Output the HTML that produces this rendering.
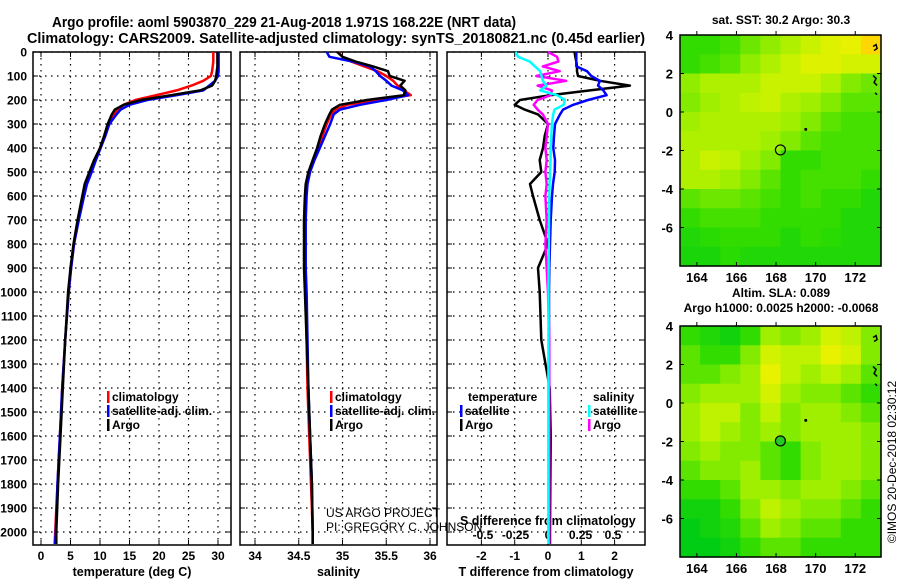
<!DOCTYPE html>
<html><head><meta charset="utf-8"><style>
body{margin:0;background:#fff}
svg{display:block;font-family:"Liberation Sans",sans-serif}
.b{font-weight:bold}
</style></head><body>
<svg id="s" width="900" height="580" viewBox="0 0 900 580" xmlns="http://www.w3.org/2000/svg">
<text x="52" y="27" class="b" font-size="14.5" textLength="464" lengthAdjust="spacingAndGlyphs">Argo profile: aoml 5903870_229 21-Aug-2018 1.971S 168.22E (NRT data)</text>
<text x="27" y="43" class="b" font-size="14.5" textLength="618" lengthAdjust="spacingAndGlyphs">Climatology: CARS2009. Satellite-adjusted climatology: synTS_20180821.nc (0.45d earlier)</text>
<g id="g"></g>
</svg>
<script>
// depth levels (m)
const depth=[0,20,40,60,80,100,120,140,160,180,200,220,240,260,300,350,400,450,500,550,600,700,800,900,1000,1200,1400,1600,1800,2000,2050];
const tempArgo=[29.9,29.9,29.9,29.9,29.8,29.7,29.5,29,27,22,17,14,12.5,12,11.3,10.7,10,9,8.2,7.4,7,6.2,5.5,5,4.6,4.1,3.7,3.3,2.9,2.6,2.6];
const tempClim=[29.2,29.2,29.2,29.1,29,28.8,27.5,25.5,23,19.5,16,14,13,12.3,11.4,10.8,10,9.2,8.5,7.7,7.2,6.3,5.6,5.1,4.7,4.1,3.6,3.2,2.8,2.4,2.3];
const tempSat=[30.1,30.1,30.1,30.1,30.1,30,29.5,28.5,27.5,23,18,15,13.5,12.8,11.6,10.9,10.1,9.3,8.6,7.8,7.3,6.4,5.6,5.1,4.7,4.1,3.6,3.2,2.8,2.5,2.4];
const salArgo=[34.94,35.0,35.15,35.35,35.52,35.54,35.71,35.66,35.72,35.7,35.28,34.97,34.88,34.85,34.8,34.75,34.71,34.66,34.61,34.58,34.57,34.56,34.56,34.56,34.57,34.59,34.61,34.63,34.65,34.66,34.66];
const salClim=[34.95,35.0,35.1,35.25,35.4,35.5,35.58,35.63,35.7,35.78,35.4,35.05,34.92,34.87,34.82,34.77,34.72,34.67,34.62,34.59,34.58,34.57,34.57,34.57,34.58,34.59,34.6,34.62,34.64,34.66,34.66];
const salSat=[34.82,34.85,35.12,35.31,35.38,35.43,35.5,35.56,35.69,35.75,35.5,35.2,34.97,34.9,34.86,34.8,34.74,34.68,34.63,34.6,34.59,34.58,34.58,34.58,34.59,34.6,34.61,34.63,34.65,34.66,34.66];
const dTArgo=[0.8,0.82,0.85,0.87,0.87,0.9,1.56,2.46,1.26,0.06,-0.84,-1.0,-0.7,-0.3,0,-0.1,-0.15,-0.25,-0.2,-0.54,-0.45,-0.25,0,-0.3,-0.25,-0.2,0.05,0.08,0.07,0.06,0.06];
const dTSat=[0.85,0.85,0.85,0.85,1.17,1.3,1.56,1.5,1.66,1.76,1.2,0.76,0.45,0.36,0.21,0.18,0.16,0.21,0.2,0.15,0.12,0.08,0.06,0.04,0.03,0.03,0.02,0.02,0.02,0.02,0.02];
const dSSat=[-0.25,-0.23,-0.14,-0.1,-0.06,-0.05,-0.04,-0.01,-0.06,0.07,0.13,0.12,0.05,0.04,0.03,0.025,0.02,0.02,0.015,0.012,0.01,0.008,0.006,0.005,0.004,0.004,0.003,0.003,0.003,0.003,0.003];
const dSArgo=[0,0.07,0.08,-0.04,0.09,-0.09,0.14,-0.08,0.03,0.02,-0.08,-0.11,-0.08,-0.04,0,-0.01,-0.02,-0.01,-0.02,-0.01,-0.02,-0.01,-0.02,-0.01,0,0.01,0.01,0.01,0.01,0.01,0.01];
const depthTicks=[0,100,200,300,400,500,600,700,800,900,1000,1100,1200,1300,1400,1500,1600,1700,1800,1900,2000];
const tempTicks=[0,5,10,15,20,25,30];
const salTicks=[34,34.5,35,35.5,36];
const dTTicks=[-2,-1,0,1,2];
const dSTicks=[-0.5,-0.25,0,0.25,0.5];
const latTicks=[4,2,0,-2,-4,-6];
const lonTicks=[164,166,168,170,172];
const sstGrid=[
[0.3,0.3,0.35,0.45,0.55,0.65,0.75,0.85,0.9,1.0],
[0.3,0.35,0.4,0.55,0.65,0.75,0.85,0.85,0.8,0.8],
[0.55,0.65,0.65,0.65,0.75,0.75,0.75,0.65,0.5,0.45],
[0.5,0.6,0.65,0.7,0.75,0.65,0.6,0.5,0.4,0.4],
[0.6,0.65,0.65,0.65,0.65,0.6,0.5,0.4,0.35,0.35],
[0.65,0.65,0.65,0.65,0.6,0.5,0.4,0.35,0.35,0.35],
[0.65,0.75,0.7,0.6,0.5,0.3,0.3,0.35,0.35,0.35],
[0.65,0.65,0.6,0.5,0.4,0.3,0.35,0.35,0.35,0.3],
[0.4,0.45,0.45,0.4,0.35,0.3,0.35,0.3,0.3,0.2],
[0.3,0.35,0.35,0.35,0.3,0.3,0.3,0.3,0.2,0.2],
[0.2,0.25,0.3,0.3,0.3,0.2,0.3,0.25,0.2,0.2],
[0.15,0.15,0.25,0.2,0.2,0.2,0.2,0.2,0.2,0.2]];
const slaGrid=[
[0.3,0.2,0.1,0.3,0.6,0.5,0.6,0.8,0.7,0.5],
[0.4,0.3,0.3,0.5,0.8,0.7,0.7,0.9,0.8,0.5],
[0.4,0.4,0.5,0.6,0.9,0.7,0.6,0.7,0.6,0.4],
[0.5,0.6,0.6,0.6,0.8,0.6,0.5,0.5,0.4,0.3],
[0.6,0.7,0.7,0.5,0.7,0.5,0.6,0.6,0.5,0.4],
[0.6,0.7,0.6,0.5,0.6,0.5,0.6,0.6,0.6,0.5],
[0.5,0.6,0.5,0.5,0.4,0.3,0.5,0.6,0.6,0.5],
[0.4,0.5,0.5,0.6,0.4,0.3,0.5,0.6,0.6,0.5],
[0.3,0.3,0.4,0.6,0.6,0.5,0.6,0.6,0.5,0.4],
[0.1,0.1,0.3,0.5,0.7,0.6,0.5,0.5,0.4,0.3],
[0.0,0.1,0.2,0.4,0.6,0.5,0.4,0.4,0.3,0.3],
[0.0,0.0,0.1,0.3,0.4,0.4,0.3,0.3,0.3,0.3]];

const NS="http://www.w3.org/2000/svg",G=document.getElementById('g');
function el(t,a,p){const e=document.createElementNS(NS,t);for(const k in a)e.setAttribute(k,a[k]);(p||G).appendChild(e);return e;}
function tx(x,y,s,fs,anchor,bold,name){const e=el('text',{x:x,y:y,'font-size':fs,'text-anchor':anchor||'start','font-weight':bold?'bold':'normal'});e.textContent=s;


return e;}
const yD=d=>52+d*0.24;
const PB=545;
const panels=[
 {x0:33,x1:231,f:v=>41+v*5.9,ticks:tempTicks,title:'temperature (deg C)',name:'temperature-panel'},
 {x0:240,x1:437,f:v=>255+(v-34)*87.5,ticks:salTicks,title:'salinity',name:'salinity-panel'},
 {x0:447,x1:645,f:v=>548+v*33.3,ticks:dTTicks,title:'T difference from climatology',name:'difference-panel'}];
panels.forEach((p,i)=>{
 const g=el('g',{});
 
 
 depthTicks.forEach(d=>{el('line',{x1:p.x0,x2:p.x1,y1:yD(d),y2:yD(d),stroke:'#000','stroke-dasharray':'1.5,4.5','stroke-width':1.2},g);
  el('line',{x1:p.x0,x2:p.x0+5,y1:yD(d),y2:yD(d),stroke:'#000'},g);el('line',{x1:p.x1-5,x2:p.x1,y1:yD(d),y2:yD(d),stroke:'#000'},g);});
 p.ticks.forEach(v=>{const x=p.f(v);el('line',{x1:x,x2:x,y1:52,y2:PB,stroke:'#000','stroke-dasharray':'1.5,4.5','stroke-width':1.2},g);
  el('line',{x1:x,x2:x,y1:PB-5,y2:PB,stroke:'#000'},g);el('line',{x1:x,x2:x,y1:52,y2:57,stroke:'#000'},g);
  tx(x,560,String(v),12,'middle',true,'x-tick-label');});
 el('rect',{x:p.x0,y:52,width:p.x1-p.x0,height:PB-52,fill:'none',stroke:'#000','stroke-width':1.5},g);
 tx((p.x0+p.x1)/2,576,p.title,12.5,'middle',true,'x-axis-title');
});
depthTicks.forEach(d=>tx(27,yD(d)+4.5,String(d),12,'end',true,'depth-tick-label'));
const xDS=v=>548+v*130;
dSTicks.forEach(v=>tx(xDS(v),539,String(v),12,'middle',true,'s-diff-tick-label'));
tx(460,525,'S difference from climatology',12.5,'start',true,'s-diff-axis-title');
function line(xs,f,col,name,w){const pts=depth.map((d,i)=>f(xs[i]).toFixed(1)+','+yD(d).toFixed(1)).join(' ');
 const e=el('polyline',{points:pts,fill:'none',stroke:col,'stroke-width':w||2.5,'stroke-linejoin':'round'});
 
 }
const fT=panels[0].f,fS=panels[1].f,fDT=panels[2].f;
line(tempClim,fT,'#f00','temp-climatology-line');line(tempSat,fT,'#00f','temp-satellite-line');line(tempArgo,fT,'#000','temp-argo-line');
line(salClim,fS,'#f00','sal-climatology-line');line(salSat,fS,'#00f','sal-satellite-line');line(salArgo,fS,'#000','sal-argo-line');
line(dTArgo,fDT,'#000','tdiff-argo-line');line(dTSat,fDT,'#00f','tdiff-satellite-line');line(dSArgo,xDS,'#f0f','sdiff-argo-line');line(dSSat,xDS,'#0ff','sdiff-satellite-line');
function leg(x,y,col,label){const r=el('rect',{x:x,y:y-10,width:2.5,height:12,fill:col});
 
 
 tx(x+5,y,label,12,'start',true,'legend-entry');}
[107,330].forEach(x=>{leg(x,401,'#f00','climatology');leg(x,415,'#00f','satellite-adj. clim.');leg(x,429,'#000','Argo');});
tx(468,401,'temperature',12,'start',true,'legend-temperature-header');tx(593,401,'salinity',12,'start',true,'legend-salinity-header');
leg(460,415,'#00f','satellite');leg(460,429,'#000','Argo');leg(588,415,'#0ff','satellite');leg(588,429,'#f0f','Argo');
tx(326,517,'US ARGO PROJECT',12,'start',false,'project-credit');tx(326,531,'PI: GREGORY C. JOHNSON',12,'start',false,'pi-credit');

// maps
function col(v){const st=[[0,[0,205,20]],[0.3,[50,220,0]],[0.5,[130,235,0]],[0.7,[190,242,0]],[0.9,[232,242,0]],[1,[255,215,0]]];
 for(let i=1;i<st.length;i++){if(v<=st[i][0]){const a=st[i-1],b=st[i],t=(v-a[0])/(b[0]-a[0]);return 'rgb('+a[1].map((c,k)=>Math.round(c+(b[1][k]-c)*t)).join(',')+')';}}return 'rgb(255,215,0)';}
function map(top,grid,name,title1,title2,filled){
 const L=680,R=881,B=top+231,lon0=163.15,lon1=173.3;
 const xL=v=>L+(v-lon0)/(lon1-lon0)*(R-L),yL=v=>top+(4-v)/12*(B-top);
 const g=el('g',{});
 
 
 const nr=grid.length,nc=grid[0].length;
 grid.forEach((row,r)=>row.forEach((v,c)=>{el('rect',{x:L+c*(R-L)/nc,y:top+r*(B-top)/nr,width:(R-L)/nc+0.6,height:(B-top)/nr+0.6,fill:col(v)},g);}));
 el('rect',{x:L,y:top,width:R-L,height:B-top,fill:'none',stroke:'#000','stroke-width':1.5},g);
 latTicks.forEach(v=>{el('line',{x1:L,x2:L+4,y1:yL(v),y2:yL(v),stroke:'#000'},g);el('line',{x1:R-4,x2:R,y1:yL(v),y2:yL(v),stroke:'#000'},g);tx(673,yL(v)+5,String(v),13,'end',true,'lat-tick-label');});
 lonTicks.forEach(v=>{el('line',{x1:xL(v),x2:xL(v),y1:B-4,y2:B,stroke:'#000'},g);el('line',{x1:xL(v),x2:xL(v),y1:top,y2:top-4,stroke:'#000'},g);tx(xL(v),B+16,String(v),13,'middle',true,'lon-tick-label');});
 el('path',{d:`M${xL(172.9)},${yL(3.4)} l3,-2 l1,4 l-3,2 M${xL(172.9)},${yL(1.9)} l3,3 l-2,4 l3,3 M${xL(173)},${yL(1)} l2,2`,stroke:'#000',fill:'none','stroke-width':1.5},g);
 el('circle',{cx:xL(169.5),cy:yL(-0.9),r:1.5,fill:'#000'},g);
 const c=el('circle',{cx:xL(168.22),cy:yL(-1.97),r:5,fill:filled?'#22cc22':'none',stroke:'#000','stroke-width':1.2},g);
 
 
 if(title2){tx(781,top-29,title1,12,'middle',true,'map-title');tx(781,top-14,title2,12,'middle',true,'map-subtitle');}
 else tx(781,top-11,title1,12,'middle',true,'map-title');
}
map(35,sstGrid,'sst-map','sat. SST: 30.2 Argo: 30.3',null,false);
map(326,slaGrid,'sla-map','Altim. SLA: 0.089','Argo h1000: 0.0025 h2000: -0.0068',true);
const cr=tx(0,0,'©IMOS 20-Dec-2018 02:30:12',12,'middle',false,'imos-timestamp');
cr.setAttribute('transform','translate(896,462) rotate(-90)');
</script>
</body></html>
